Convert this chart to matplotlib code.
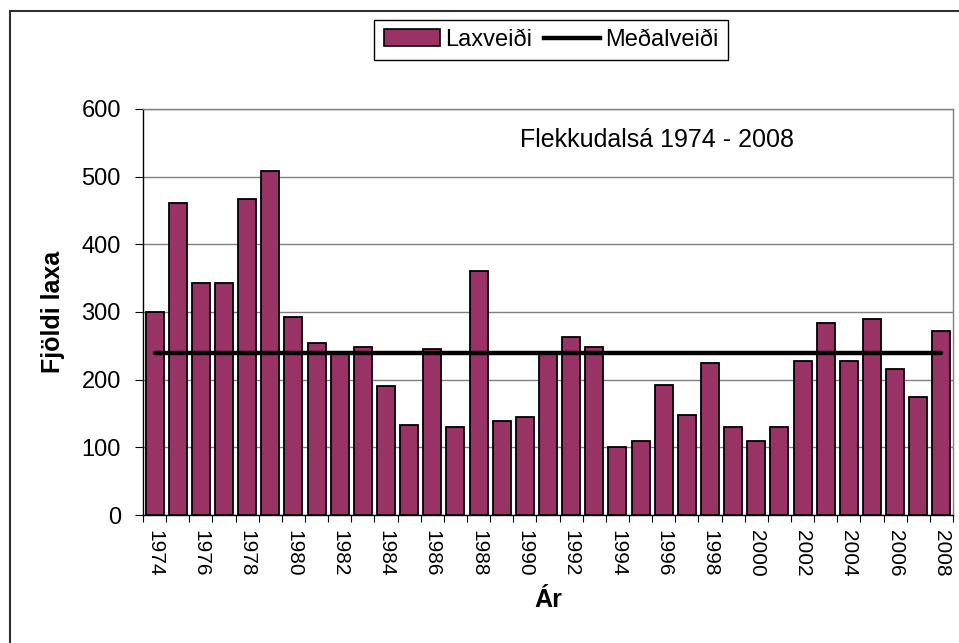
import matplotlib
matplotlib.use("Agg")
import matplotlib.pyplot as plt
from matplotlib.lines import Line2D
from matplotlib.patches import Patch
import numpy as np

years = list(range(1974, 2009))
catch = [300, 461, 343, 343, 467, 508, 292, 254, 239, 248, 190, 133,
         245, 130, 360, 139, 145, 240, 263, 248, 100, 109, 192, 148,
         225, 130, 110, 130, 228, 284, 228, 290, 216, 175, 272]
mean_catch = 240
yticks = [0, 100, 200, 300, 400, 500, 600]
title_text = "Flekkudalsá 1974 - 2008"
bar_label = "Laxveiði"
line_label = "Meðalveiði"

plt.rcParams['font.family'] = ['Liberation Sans', 'DejaVu Sans']

fig = plt.figure(figsize=(9.59, 6.43), dpi=100)
ax = fig.add_axes([143/959, 1-515/643, 810/959, 406/643])

bar_color = '#993366'
x = np.arange(len(years))
ax.bar(x, catch, width=0.78, color=bar_color, edgecolor='black', linewidth=1.3, zorder=2)
ax.plot([x[0], x[-1]], [mean_catch, mean_catch], color='black', linewidth=3.2,
        solid_capstyle='round', zorder=3)

ax.set_xlim(-0.5, len(years) - 0.5)
ax.set_ylim(0, 600)
ax.set_yticks(yticks)
ax.set_yticklabels([str(v) for v in yticks], fontsize=17)
ax.yaxis.grid(True, color='#808080', linewidth=1.0, zorder=0)
ax.set_axisbelow(True)

ax.set_xticks(x[::2])
ax.set_xticklabels([str(y) for y in years[::2]], rotation=-90, fontsize=15)
ax.set_xticks(np.arange(-0.5, len(years) + 0.5, 1), minor=True)
ax.tick_params(axis='x', which='major', length=0, pad=11)
ax.tick_params(axis='x', which='minor', length=5, width=0.8, direction='out')
ax.tick_params(axis='y', which='major', length=6, width=0.8, direction='out', pad=10)

for s in ['top', 'right']:
    ax.spines[s].set_color('#808080')
    ax.spines[s].set_linewidth(1.0)
for s in ['left', 'bottom']:
    ax.spines[s].set_color('black')
    ax.spines[s].set_linewidth(1.0)

ax.set_ylabel("Fjöldi laxa", fontsize=18, fontweight='bold', labelpad=12)
ax.set_xlabel("Ár", fontsize=18, fontweight='bold', labelpad=8)

ax.text(0.635, 0.924, title_text, transform=ax.transAxes, fontsize=18,
        ha='center', va='center')

handles = [Patch(facecolor=bar_color, edgecolor='black', linewidth=1.2),
           Line2D([0], [0], color='black', linewidth=3.2)]
leg = fig.legend(handles, [bar_label, line_label], loc='center',
                 bbox_to_anchor=(551/959, 1-40/643), ncol=2, frameon=True,
                 fancybox=False, edgecolor='black', framealpha=1,
                 prop={'family': ['Liberation Sans Narrow', 'Liberation Sans'], 'size': 17},
                 handlelength=2.4, handletextpad=0.2, columnspacing=0.5,
                 borderpad=0.4)
leg.get_frame().set_linewidth(1.0)

# outer chart frame (top and left edges)
fig.add_artist(Line2D([9.5/959, 9.5/959], [0, 1-10.5/643], transform=fig.transFigure,
                      color='#303030', linewidth=1.5))
fig.add_artist(Line2D([9.5/959, 1], [1-10.5/643, 1-10.5/643], transform=fig.transFigure,
                      color='#303030', linewidth=1.5))

fig.savefig("out.png", dpi=100, facecolor='white')
